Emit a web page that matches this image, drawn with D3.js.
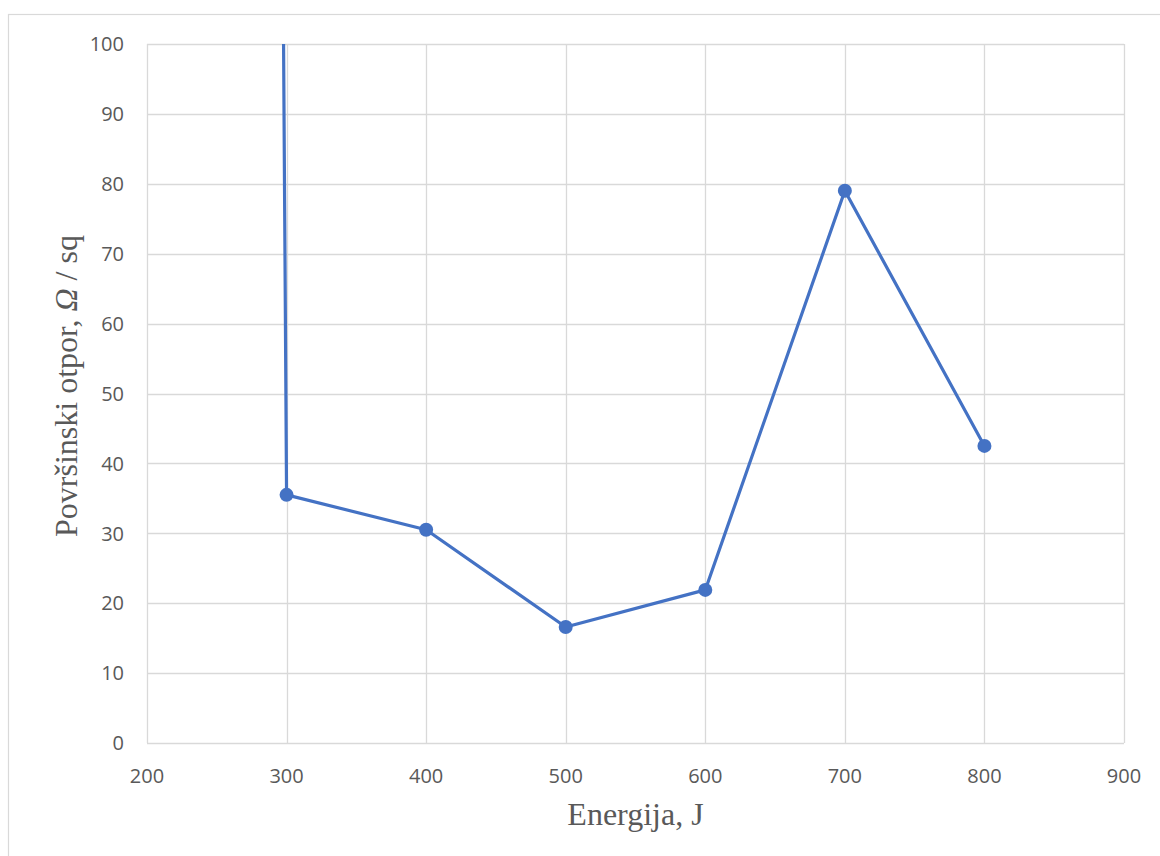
<!DOCTYPE html>
<html><head><meta charset="utf-8">
<script src="https://cdn.jsdelivr.net/npm/d3@7"></script>
<style>body{margin:0;background:#fff;} svg{display:block;}</style>
</head><body>
<svg id="c" width="1160" height="856"></svg>
<script>
const energy = [290, 300, 400, 500, 600, 700, 800];
const resistance = [335, 35.5, 30.5, 16.6, 21.9, 79.0, 42.5];
const xTicks = [200, 300, 400, 500, 600, 700, 800, 900];
const yTicks = [0, 10, 20, 30, 40, 50, 60, 70, 80, 90, 100];
const xTitle = "Energija, J";
const yTitleParts = ["Površinski otpor, ", "Ω", " / sq"];

const svg = d3.select("#c");
const L = 147, R = 1124, T = 44, B = 743;
const x = d3.scaleLinear().domain([200, 900]).range([L, R]);
const y = d3.scaleLinear().domain([0, 100]).range([B, T]);

// outer chart border
svg.append("rect").attr("x", 8.5).attr("y", 14.5).attr("width", 1160).attr("height", 860)
  .attr("fill", "none").attr("stroke", "#d9d9d9").attr("stroke-width", 1.2);

// gridlines
svg.append("g").selectAll("line").data(yTicks).join("line")
  .attr("x1", L).attr("x2", R).attr("y1", d => Math.round(y(d)) + 0.5).attr("y2", d => Math.round(y(d)) + 0.5)
  .attr("stroke", "#d9d9d9").attr("stroke-width", 1.3);
svg.append("g").selectAll("line").data(xTicks).join("line")
  .attr("y1", T).attr("y2", B).attr("x1", d => Math.round(x(d)) + 0.5).attr("x2", d => Math.round(x(d)) + 0.5)
  .attr("stroke", "#d9d9d9").attr("stroke-width", 1.3);

// tick labels
const tickFont = "'Open Sans', 'Liberation Sans', sans-serif";
svg.append("g").selectAll("text").data(yTicks).join("text")
  .attr("x", L - 23).attr("y", d => y(d)).attr("dy", "0.36em").attr("text-anchor", "end")
  .attr("font-family", tickFont).attr("font-size", 20).attr("fill", "#595959").text(d => d);
svg.append("g").selectAll("text").data(xTicks).join("text")
  .attr("x", d => x(d)).attr("y", 783).attr("text-anchor", "middle")
  .attr("font-family", tickFont).attr("font-size", 20).attr("fill", "#595959").text(d => d);

// axis titles
const serif = "'Liberation Serif', 'Times New Roman', serif";
svg.append("text").attr("x", (L + R) / 2).attr("y", 825).attr("text-anchor", "middle")
  .attr("font-family", serif).attr("font-size", 32)
  .attr("fill", "#595959").text(xTitle);
const yt = svg.append("text").attr("transform", `translate(77, 386) rotate(-90)`).attr("text-anchor", "middle")
  .attr("font-family", serif).attr("font-size", 32).attr("fill", "#595959");
yTitleParts.forEach((p, i) => yt.append("tspan").attr("font-style", i === 1 ? "italic" : "normal").text(p));

// data
const pts = energy.map((e, i) => ({ e, r: resistance[i] }));
svg.append("clipPath").attr("id", "clip").append("rect")
  .attr("x", L).attr("y", T).attr("width", R - L).attr("height", B - T);
const line = d3.line().x(d => x(d.e)).y(d => y(d.r));
const g = svg.append("g").attr("clip-path", "url(#clip)");
g.append("path").datum(pts).attr("d", line).attr("fill", "none")
  .attr("stroke", "#4472c4").attr("stroke-width", 3.2).attr("stroke-linejoin", "round");
g.selectAll("circle").data(pts.filter(d => d.r <= 100)).join("circle")
  .attr("cx", d => x(d.e)).attr("cy", d => y(d.r)).attr("r", 7).attr("fill", "#4472c4");
</script>
</body></html>
